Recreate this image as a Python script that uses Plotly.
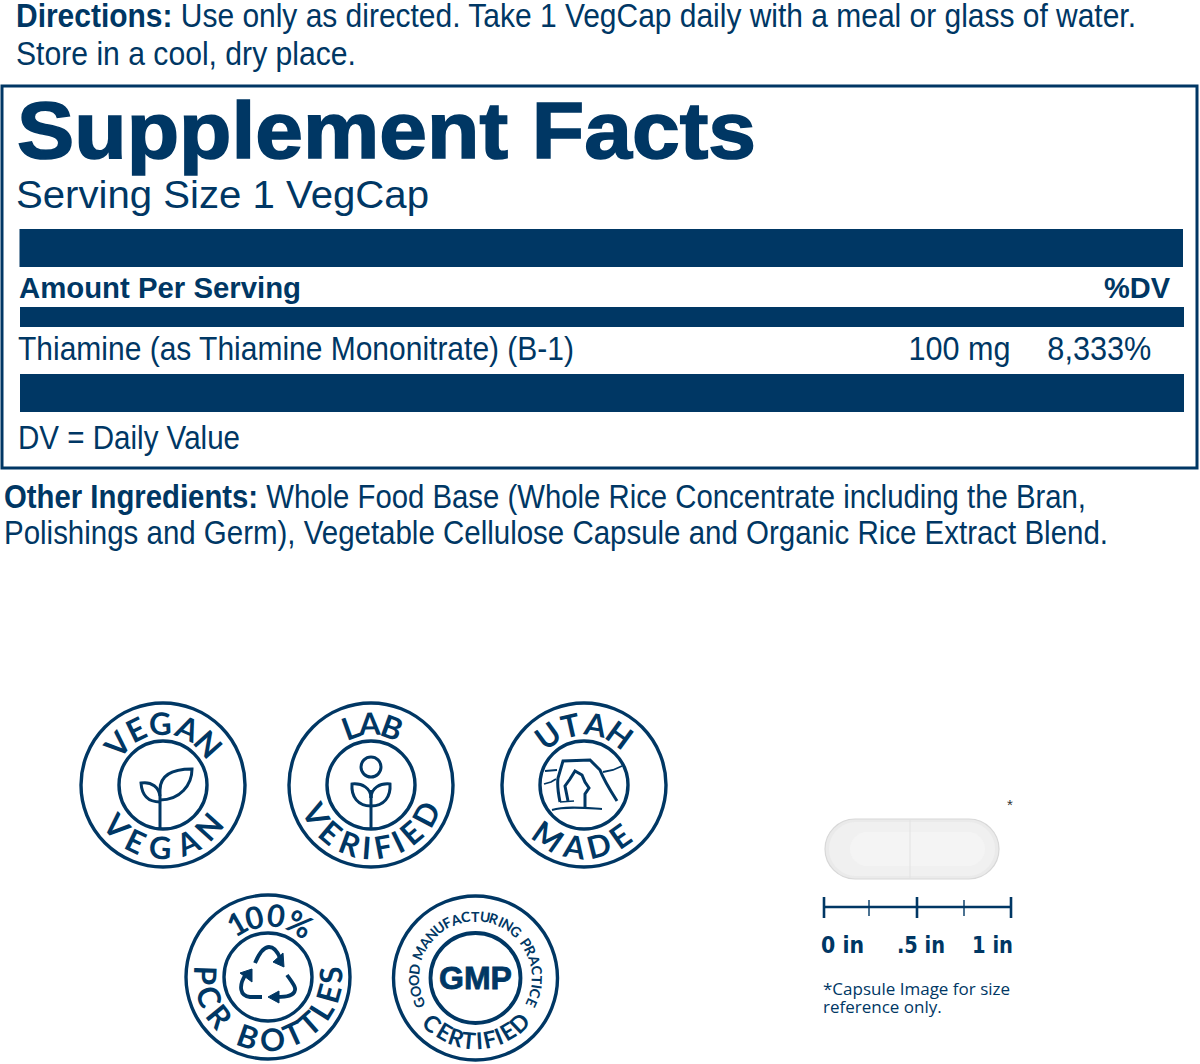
import json
import math
import plotly.graph_objects as go

NAVY = "#003764"
SANS = "Liberation Sans"
BADGE_FONT = "Lato"

# label texts
directions = ["<b>Directions:</b> Use only as directed. Take 1 VegCap daily with a meal or glass of water.",
              "Store in a cool, dry place."]
title = "Supplement Facts"
serving = "Serving Size 1 VegCap"
table_head = ["Amount Per Serving", "%DV"]
ingredient = ["Thiamine (as Thiamine Mononitrate) (B-1)", "100 mg", "8,333%"]
dv_note = "DV = Daily Value"
other = ["<b>Other Ingredients:</b> Whole Food Base (Whole Rice Concentrate including the Bran,",
         "Polishings and Germ), Vegetable Cellulose Capsule and Organic Rice Extract Blend."]

# badge texts
vegan_words = ["VEGAN", "VEGAN"]
lab_words = ["LAB", "VERIFIED"]
utah_words = ["UTAH", "MADE"]
pcr_words = ["100%", "PCR BOTTLES"]
gmp_words = ["GOOD MANUFACTURING PRACTICE", "CERTIFIED", "GMP"]

# size scale
scale_labels = ["0 in", ".5 in", "1 in"]
scale_major = [824, 917, 1011]
scale_minor = [869, 964]
footnote = "*Capsule Image for size<br>reference only."

WIDTHS = {"I": 0.45, "T": 0.8, "L": 0.75, "M": 1.25, " ": 0.55, "1": 0.7, "%": 1.3,
          "F": 0.8, "E": 0.8, "P": 0.85, "S": 0.85, "R": 0.9, "O": 1.15, "G": 1.1, "C": 1.05}

shapes = []
notes = []
fits = {}  # text -> width on the page, the label font is condensed and no condensed font is installed


def text(x, y, s, size, font=SANS, color=NAVY, anchor="left", angle=0, bold=False, fit=None):
    if fit:
        fits[s.replace("<b>", "").replace("</b>", "")] = fit
    if bold:
        s = "<b>" + s + "</b>"
    notes.append(dict(x=x, y=y, text=s, xref="x", yref="y", showarrow=False, xanchor=anchor, align=anchor,
                      yanchor="middle", textangle=angle, borderpad=0,
                      font=dict(family=font, size=size, color=color)))


def rect(x0, y0, x1, y1, fill=NAVY, line=None, width=0):
    shapes.append(dict(type="rect", x0=x0, y0=y0, x1=x1, y1=y1, fillcolor=fill,
                       line=dict(color=line or fill, width=width)))


def ring(cx, cy, r, width=3.4):
    shapes.append(dict(type="circle", x0=cx - r, y0=cy - r, x1=cx + r, y1=cy + r,
                       line=dict(color=NAVY, width=width)))


def path(d, width=2.6, fill=None, color=NAVY):
    shapes.append(dict(type="path", path=d, fillcolor=fill or "rgba(0,0,0,0)",
                       line=dict(color=color, width=width)))


def pill(x0, y0, x1, y1, fill, color=None, width=0):
    r = (y1 - y0) / 2
    k = r * 0.55
    path(f"M {x0 + r} {y0} L {x1 - r} {y0} C {x1 - r + k} {y0} {x1} {y0 + r - k} {x1} {y0 + r} "
         f"C {x1} {y0 + r + k} {x1 - r + k} {y1} {x1 - r} {y1} L {x0 + r} {y1} "
         f"C {x0 + r - k} {y1} {x0} {y0 + r + k} {x0} {y0 + r} C {x0} {y0 + r - k} {x0 + r - k} {y0} {x0 + r} {y0} Z",
         width, fill=fill, color=color or fill)


def arc_text(s, cx, cy, r, half, size, bottom=False, bold=True):
    # letters are spaced by rough width along the arc, half = angle of first/last letter
    w = [WIDTHS.get(c, 1.0) for c in s]
    mids = []
    pos = 0
    for i in range(len(s)):
        mids.append(pos + w[i] / 2)
        pos += w[i]
    first, last = mids[0], mids[-1]
    for c, m in zip(s, mids):
        if c == " ":
            continue
        a = -half + 2 * half * (m - first) / (last - first)
        t = math.radians(a)
        if bottom:
            text(cx + r * math.sin(t), cy + r * math.cos(t), c, size, BADGE_FONT, anchor="center", angle=-a, bold=bold)
        else:
            text(cx + r * math.sin(t), cy - r * math.cos(t), c, size, BADGE_FONT, anchor="center", angle=a, bold=bold)


# directions
text(15, 15, directions[0], 33, fit=1120)
text(15, 53, directions[1], 33, fit=340)

# facts box
rect(2, 86, 1197, 468, fill="rgba(0,0,0,0)", line=NAVY, width=3)
rect(19.5, 229, 1183, 267)
rect(20, 307, 1184, 327)
rect(20, 374, 1184, 412)
text(16, 130, title, 80, bold=True, fit=739)
text(15, 195, serving, 38, fit=413)
text(18, 288, table_head[0], 29, bold=True, fit=282)
text(1172, 288, table_head[1], 29, anchor="right", bold=True)
text(17, 348, ingredient[0], 34, fit=556)
text(1011, 348, ingredient[1], 34, anchor="right", fit=102)
text(1152, 348, ingredient[2], 34, anchor="right", fit=104)
text(17, 437, dv_note, 34, fit=222)

text(3, 496, other[0], 34, fit=1082)
text(3, 532, other[1], 34, fit=1104)

# vegan badge
ring(163, 785, 82)
ring(163, 785, 44)
arc_text(vegan_words[0], 163, 785, 62, 48, 31)
arc_text(vegan_words[1], 163, 785, 62, 48, 31, bottom=True)
path("M 160 828 L 160 790", 3)
path("M 160 790 C 160 775 172 769 192 769 C 192 785 180 800 160 800", 3)
path("M 160 802 C 150 802 142 797 141 783 C 152 781 159 788 160 796", 3)

# lab badge
ring(371, 785, 82)
ring(371, 785, 44)
arc_text(lab_words[0], 371, 785, 62, 20, 31)
arc_text(lab_words[1], 371, 785, 62, 62, 31, bottom=True)
ring(371, 767, 10, 3)
path("M 371 828 L 371 790", 3)
path("M 371 806 C 358 806 351 797 352 784 C 362 783 371 788 371 798", 3)
path("M 371 806 C 384 806 391 797 390 784 C 380 783 371 788 371 798", 3)

# utah badge
ring(584, 785, 82)
ring(584, 785, 44)
arc_text(utah_words[0], 584, 785, 62, 36, 31)
arc_text(utah_words[1], 584, 785, 62, 35, 31, bottom=True)
path("M 560 802 C 558 792 557 785 558 778 L 563 761 L 590 760 L 600 770 C 603 778 610 790 617 801", 3)
path("M 568 801 L 565 786 L 570 779 L 575 771 L 582 775 L 585 782 L 589 788 L 585 794 L 585 808", 3)
path("M 560 802 L 574 801", 1.6)
path("M 552 810 C 565 806 585 808 602 809", 2)
path("M 545 771 L 557 770", 1.8)
path("M 544 784 L 551 782 L 556 779", 1.8)
path("M 603 772 L 613 770 L 622 766", 1.8)

# pcr badge
ring(268, 977, 82)
ring(268, 977, 44)
arc_text(pcr_words[0], 268, 977, 62, 30, 31)
arc_text(pcr_words[1], 268, 977, 62, 92, 31, bottom=True)
path("M 255 963 C 258 956 263 947 269 947 C 274 947 278 953 280 958", 3.8)
path("M 283 953 L 284 967 L 273 962 Z", 1, fill=NAVY)
path("M 262 997 L 250 997 C 240 996 238 986 246 974", 3.8)
path("M 240 973 L 252 969 L 252 982 Z", 1, fill=NAVY)
path("M 287 975 C 292 982 296 987 295 990 C 294 996 287 997 277 997", 3.8)
path("M 268 997 L 279 991 L 279 1003 Z", 1, fill=NAVY)

# gmp badge
ring(475.5, 978, 82)
ring(475.5, 978, 45, 3.8)
arc_text(gmp_words[0], 475.5, 978, 62, 114, 14)
arc_text(gmp_words[1], 475.5, 978, 62, 44, 23, bottom=True)
text(475.5, 978, gmp_words[2], 32, SANS, anchor="center", bold=True)

# capsule
pill(825, 819, 999, 879, "#eaeaea", color="#d8d8d8", width=1.2)
pill(829, 822, 995, 876, "#f0f0f0")
pill(850, 832, 985, 866, "#f4f4f4")
path("M 910 820 L 910 878", 1, color="#e2e2e2")
text(1010, 804, "*", 15, SANS, color="#333333", anchor="center")

# size scale
path(f"M {scale_major[0]} 907 L {scale_major[-1]} 907", 2.6)
for x in scale_major:
    path(f"M {x} 897 L {x} 918", 2.6)
for x in scale_minor:
    path(f"M {x} 900 L {x} 916", 1.4)
text(820, 945, scale_labels[0], 23, "DejaVu Sans", bold=True, fit=43)
text(896, 945, scale_labels[1], 23, "DejaVu Sans", bold=True, fit=48)
text(971, 945, scale_labels[2], 23, "DejaVu Sans", bold=True, fit=41)
text(822, 999, footnote, 17, "Open Sans")

fig = go.Figure()
fig.update_layout(
    width=1200,
    height=1064,
    margin=dict(l=0, r=0, t=0, b=0),
    paper_bgcolor="white",
    plot_bgcolor="white",
    xaxis=dict(range=[0, 1200], visible=False, fixedrange=True),
    yaxis=dict(range=[1064, 0], visible=False, fixedrange=True),
    shapes=shapes,
    annotations=notes,
    showlegend=False,
)

# drop the body margin, squeeze labels to their widths, tighten the footnote lines
post = """
document.body.style.margin='0';document.body.style.overflow='hidden';
var fits = %s;
document.querySelectorAll('.annotation-text').forEach(function(t){
  var s = t.textContent;
  if (fits[s]) { t.setAttribute('textLength', fits[s]); t.setAttribute('lengthAdjust', 'spacingAndGlyphs'); }
  if (s === 'Supplement Facts' || s === 'GMP') { t.style.stroke = '%s'; t.style.strokeWidth = s === 'GMP' ? '0.8px' : '1.6px'; }
  if (s.indexOf('*Capsule') === 0) { t.querySelectorAll('tspan.line').forEach(function(l){ if (parseFloat(l.getAttribute('dy')) > 0) l.setAttribute('dy', '18px'); }); }
});
""" % (json.dumps(fits), NAVY)

fig.write_html("out.html", config={"displayModeBar": False}, post_script=post)
